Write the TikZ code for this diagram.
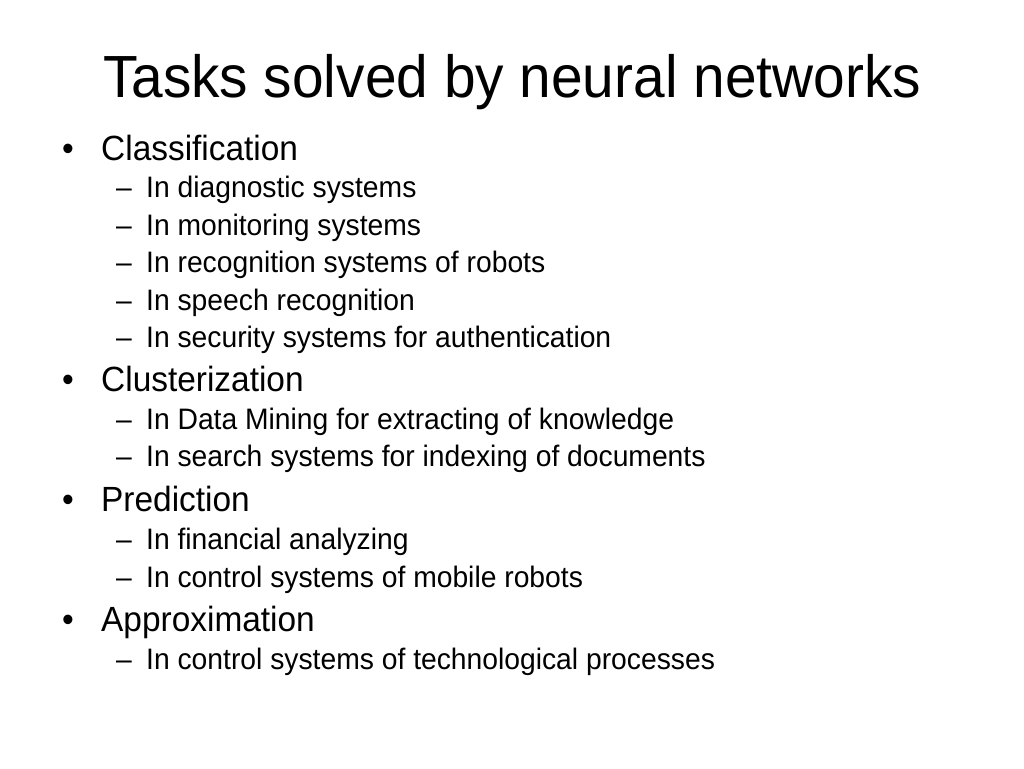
\documentclass[tikz,border=0pt]{standalone}
\usepackage{fontspec}
\setmainfont{Liberation Sans}[FakeStretch=0.955]

\begin{document}
\begin{tikzpicture}[
            x=1pt,y=-1pt,
            heading/.style={
            anchor=base,
            inner sep=0pt,
            font=\fontsize{59.5}{62}\selectfont
            },
            topitem/.style={
            anchor=base west,
            inner sep=0pt,
            font=\fontsize{35}{38}\selectfont
            },
            subitem/.style={
            anchor=base west,
            inner sep=0pt,
            font=\fontsize{29.6}{32}\selectfont
            }
            ]
            \useasboundingbox (0,0) rectangle (1024,768);
            \node[heading] (head) at (512,97) {Tasks solved by neural networks};
            % first level: bullet and task
            \foreach \Y/\Name/\Text in {160/cls/Classification,391/clu/Clusterization,511/pre/Prediction,631/app/Approximation}
            {
            \node[topitem] (b\Name) at (62,\Y) {•};
            \node[topitem] (\Name) at (101,\Y) {\Text};
            }
            % second level: dash and application
            \foreach \Y/\Name/\Text in {
            197/s1/In diagnostic systems,
            235/s2/In monitoring systems,
            272/s3/In recognition systems of robots,
            310/s4/In speech recognition,
            347/s5/In security systems for authentication,
            429/s6/In Data Mining for extracting of knowledge,
            466/s7/In search systems for indexing of documents,
            549/s8/In financial analyzing,
            587/s9/In control systems of mobile robots,
            669/s10/In control systems of technological processes}
            {
            \node[subitem] (d\Name) at (116,\Y) {–};
            \node[subitem] (\Name) at (146,\Y) {\Text};
            }
        \end{tikzpicture}
\end{document}
